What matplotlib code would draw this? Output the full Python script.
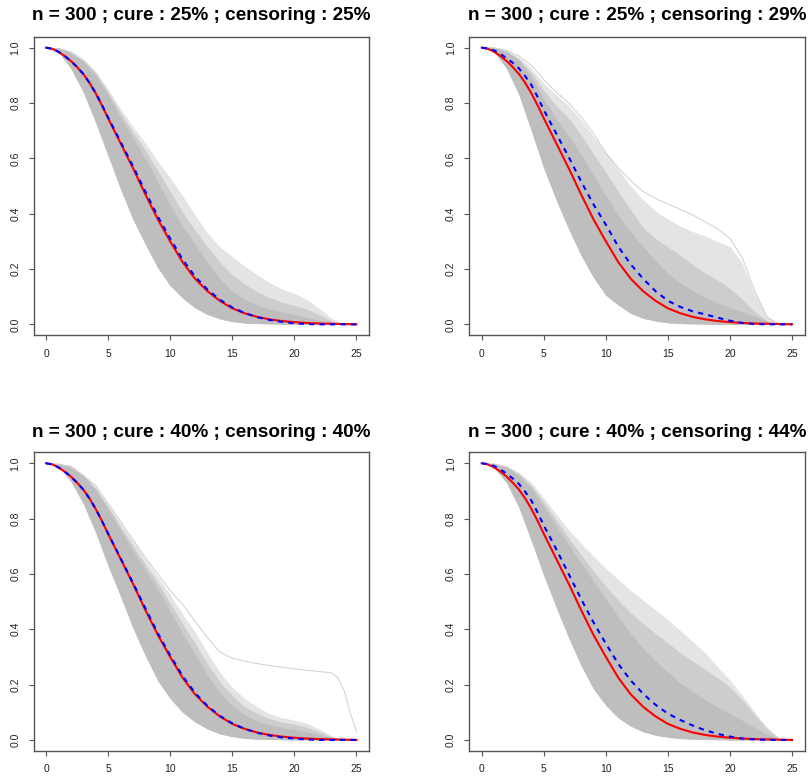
import matplotlib
matplotlib.use('Agg')
import matplotlib.pyplot as plt

plt.rcParams['font.family'] = ['Liberation Sans', 'DejaVu Sans']

# time grid of the grey band, and a finer grid for the two summary curves
t = list(range(26))
tl = [0, 0.5, 1, 1.5, 2, 2.5, 3, 3.5, 4, 4.5, 5] + list(range(6, 26))

titles = ["n = 300 ; cure : 25% ; censoring : 25%",
          "n = 300 ; cure : 25% ; censoring : 29%",
          "n = 300 ; cure : 40% ; censoring : 40%",
          "n = 300 ; cure : 40% ; censoring : 44%"]

red_true = [1.0, 0.996, 0.985, 0.97, 0.952, 0.93, 0.905, 0.873, 0.835, 0.792, 0.745,
            0.655, 0.565, 0.47, 0.38, 0.30, 0.225, 0.165, 0.12, 0.085, 0.058,
            0.04, 0.027, 0.018, 0.012, 0.008, 0.005, 0.003, 0.002, 0.001, 0.0]

blue1 = [1.0, 0.996, 0.985, 0.97, 0.952, 0.93, 0.905, 0.873, 0.836, 0.793, 0.748,
         0.66, 0.572, 0.48, 0.39, 0.31, 0.235, 0.173, 0.126, 0.089, 0.061,
         0.041, 0.026, 0.016, 0.009, 0.004, 0.001, 0.0, 0.0, 0.0, 0.0]
blue2 = [1.0, 0.997, 0.99, 0.978, 0.962, 0.945, 0.925, 0.897, 0.865, 0.822, 0.775,
         0.69, 0.605, 0.517, 0.434, 0.36, 0.281, 0.217, 0.165, 0.12, 0.085,
         0.063, 0.047, 0.036, 0.024, 0.013, 0.005, 0.001, 0.0, 0.0, 0.0]
blue3 = [1.0, 0.996, 0.985, 0.97, 0.952, 0.93, 0.905, 0.873, 0.835, 0.792, 0.746,
         0.657, 0.568, 0.476, 0.386, 0.306, 0.231, 0.17, 0.123, 0.087, 0.06,
         0.04, 0.026, 0.016, 0.009, 0.005, 0.002, 0.0, 0.0, 0.0, 0.0]
blue4 = [1.0, 0.997, 0.99, 0.978, 0.962, 0.945, 0.925, 0.897, 0.865, 0.822, 0.775,
         0.69, 0.60, 0.51, 0.425, 0.348, 0.275, 0.215, 0.167, 0.127, 0.095,
         0.072, 0.052, 0.035, 0.022, 0.012, 0.005, 0.002, 0.0, 0.0, 0.0]

# grey band of simulated curves: lower edge, upper edge of the dense core,
# upper edge of the medium-density zone, upper edge of the sparse fan
lo1 = [1.0, 0.985, 0.925, 0.84, 0.73, 0.61, 0.49, 0.38, 0.29, 0.205, 0.14, 0.095, 0.06,
       0.036, 0.02, 0.01, 0.005, 0.003, 0.002, 0.001, 0.0, 0.0, 0.0, 0.0, 0.0, 0.0]
hi1 = [1.0, 1.0, 0.98, 0.95, 0.90, 0.83, 0.75, 0.675, 0.60, 0.515, 0.43, 0.355, 0.29,
       0.225, 0.165, 0.12, 0.09, 0.07, 0.055, 0.045, 0.035, 0.025, 0.015, 0.007, 0.002, 0.0]
mid1 = [1.0, 1.0, 0.985, 0.955, 0.91, 0.84, 0.765, 0.695, 0.63, 0.555, 0.48, 0.405, 0.34,
        0.28, 0.225, 0.18, 0.145, 0.118, 0.097, 0.08, 0.068, 0.055, 0.035, 0.013, 0.001, 0.0]
top1 = [1.0, 1.0, 0.99, 0.96, 0.915, 0.85, 0.78, 0.715, 0.655, 0.59, 0.53, 0.465, 0.395,
        0.33, 0.28, 0.245, 0.21, 0.18, 0.15, 0.128, 0.112, 0.09, 0.058, 0.022, 0.0, 0.0]

lo2 = [1.0, 0.985, 0.925, 0.83, 0.70, 0.565, 0.45, 0.345, 0.25, 0.17, 0.105, 0.07, 0.04,
       0.022, 0.012, 0.006, 0.003, 0.002, 0.001, 0.0, 0.0, 0.0, 0.0, 0.0, 0.0, 0.0]
hi2 = [1.0, 1.0, 0.985, 0.955, 0.895, 0.815, 0.745, 0.68, 0.615, 0.54, 0.465, 0.395, 0.335,
       0.28, 0.23, 0.185, 0.15, 0.122, 0.098, 0.078, 0.06, 0.045, 0.03, 0.012, 0.0, 0.0]
mid2 = [1.0, 1.0, 0.988, 0.96, 0.91, 0.845, 0.79, 0.745, 0.685, 0.617, 0.55, 0.48, 0.414,
        0.35, 0.31, 0.28, 0.25, 0.215, 0.185, 0.16, 0.13, 0.09, 0.045, 0.012, 0.0, 0.0]
top2 = [1.0, 1.0, 0.99, 0.965, 0.925, 0.87, 0.83, 0.79, 0.74, 0.68, 0.62, 0.56, 0.50,
        0.45, 0.41, 0.38, 0.355, 0.335, 0.32, 0.30, 0.28, 0.22, 0.11, 0.03, 0.0, 0.0]

lo3 = [1.0, 0.99, 0.935, 0.855, 0.75, 0.63, 0.52, 0.405, 0.305, 0.215, 0.15, 0.10, 0.065,
       0.04, 0.022, 0.012, 0.006, 0.003, 0.002, 0.001, 0.0, 0.0, 0.0, 0.0, 0.0, 0.0]
hi3 = [1.0, 1.0, 0.985, 0.955, 0.905, 0.835, 0.76, 0.685, 0.615, 0.545, 0.465, 0.385, 0.31,
       0.235, 0.17, 0.125, 0.09, 0.068, 0.055, 0.045, 0.038, 0.03, 0.02, 0.008, 0.002, 0.0]
mid3 = [1.0, 1.0, 0.988, 0.958, 0.91, 0.843, 0.772, 0.703, 0.635, 0.568, 0.495, 0.42, 0.35,
        0.275, 0.21, 0.16, 0.12, 0.095, 0.077, 0.065, 0.057, 0.046, 0.03, 0.011, 0.002, 0.0]
top3 = [1.0, 1.0, 0.99, 0.96, 0.915, 0.85, 0.785, 0.72, 0.655, 0.59, 0.525, 0.455, 0.39,
        0.315, 0.245, 0.19, 0.15, 0.12, 0.095, 0.08, 0.072, 0.06, 0.04, 0.015, 0.003, 0.0]

lo4 = [1.0, 0.985, 0.93, 0.84, 0.72, 0.595, 0.48, 0.37, 0.27, 0.185, 0.125, 0.08, 0.05,
       0.03, 0.017, 0.01, 0.005, 0.003, 0.002, 0.001, 0.0, 0.0, 0.0, 0.0, 0.0, 0.0]
hi4 = [1.0, 1.0, 0.985, 0.955, 0.91, 0.845, 0.775, 0.705, 0.64, 0.575, 0.51, 0.445, 0.385,
       0.33, 0.285, 0.245, 0.205, 0.175, 0.145, 0.12, 0.095, 0.07, 0.045, 0.02, 0.003, 0.0]
mid4 = [1.0, 1.0, 0.99, 0.962, 0.92, 0.86, 0.795, 0.73, 0.67, 0.61, 0.555, 0.505, 0.46,
        0.42, 0.385, 0.35, 0.315, 0.285, 0.255, 0.225, 0.19, 0.145, 0.09, 0.04, 0.005, 0.0]
top4 = [1.0, 1.0, 0.99, 0.967, 0.93, 0.875, 0.815, 0.76, 0.71, 0.665, 0.62, 0.58, 0.54,
        0.505, 0.47, 0.435, 0.395, 0.355, 0.315, 0.265, 0.215, 0.16, 0.10, 0.045, 0.005, 0.0]

# individual outlying curves
out2_t = t
out2 = [1.0, 1.0, 0.99, 0.97, 0.935, 0.885, 0.84, 0.80, 0.75, 0.69, 0.62, 0.565, 0.52,
        0.48, 0.455, 0.435, 0.415, 0.395, 0.37, 0.345, 0.31, 0.24, 0.12, 0.025, 0.0, 0.0]
out3_t = [0, 2, 4, 6, 8, 9, 10, 11, 12, 13, 14, 15, 16, 17, 18, 19, 20, 21, 22, 23,
          23.5, 24, 24.5, 25]
out3 = [1.0, 0.99, 0.92, 0.79, 0.66, 0.60, 0.54, 0.49, 0.43, 0.37, 0.318, 0.295, 0.285,
        0.276, 0.269, 0.263, 0.257, 0.252, 0.247, 0.243, 0.225, 0.18, 0.10, 0.03]

bands = [(lo1, hi1, mid1, top1, blue1, []),
         (lo2, hi2, mid2, top2, blue2, [(out2_t, out2)]),
         (lo3, hi3, mid3, top3, blue3, [(out3_t, out3)]),
         (lo4, hi4, mid4, top4, blue4, [])]

W, H = 811, 778
fig = plt.figure(figsize=(W / 100, H / 100), dpi=100)
ax_w, ax_h = 335.2, 298.8
corners = [(33.6, 36.6), (469.3, 36.6), (33.6, 452.2), (469.3, 452.2)]
title_base = [20.0, 20.0, 436.7, 436.7]

for i, (lo, hi, mid, top, blue, extras) in enumerate(bands):
    L, T = corners[i]
    ax = fig.add_axes([L / W, 1 - (T + ax_h) / H, ax_w / W, ax_h / H])
    ax.fill_between(t, lo, top, color='#E4E4E4', lw=0)
    ax.fill_between(t, lo, mid, color='#CDCDCD', lw=0)
    ax.fill_between(t, lo, hi, color='#BEBEBE', lw=0)
    for et, ev in extras:
        ax.plot(et, ev, color='#CFCFCF', lw=0.7)
    ax.plot(tl, red_true, color='#FF0000', lw=1.5)
    ax.plot(tl, blue, color='#0000FF', lw=1.5, ls=(0, (2.5, 2.5)))
    ax.set_xlim(-1, 26)
    ax.set_ylim(-0.04, 1.04)
    ax.set_xticks([0, 5, 10, 15, 20, 25])
    ax.set_yticks([0, 0.2, 0.4, 0.6, 0.8, 1.0])
    ax.set_yticklabels(['0.0', '0.2', '0.4', '0.6', '0.8', '1.0'], rotation=90, va='center')
    ax.tick_params(length=3.6, width=0.8, color='#555555', labelsize=7.5, pad=6.0,
                   labelcolor='#222222')
    for s in ax.spines.values():
        s.set_color('#555555')
        s.set_linewidth(1.0)
    cx = (L + ax_w / 2) / W
    fig.text(cx, 1 - title_base[i] / H, titles[i], ha='center', va='baseline',
             fontsize=13.7, fontweight='bold')

fig.savefig('out.png', dpi=100)
